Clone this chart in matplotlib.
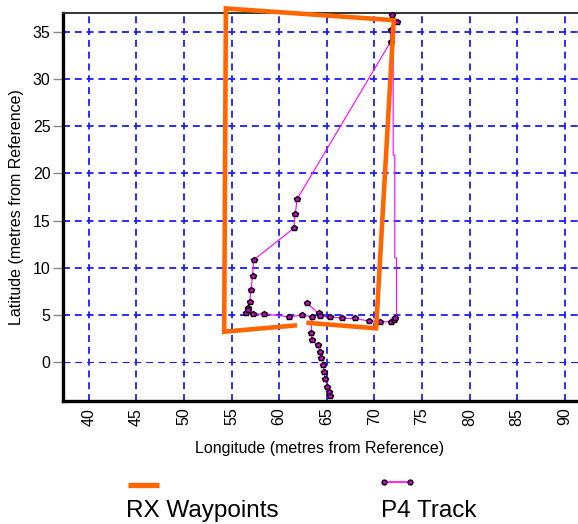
import matplotlib
matplotlib.use("Agg")
import matplotlib.pyplot as plt
from matplotlib.lines import Line2D

plt.rcParams['font.family'] = ['Liberation Sans', 'DejaVu Sans']
plt.rcParams['lines.scale_dashes'] = False

# RX waypoint route (open path, metres from reference)
rx_lon = [61.88, 54.23, 54.41, 72.04, 70.19, 62.86]
rx_lat = [3.92, 3.24, 37.48, 36.24, 3.60, 4.19]

# P4 recorded track (metres from reference)
track_lon = [62.93, 64.15, 64.26, 65.38, 66.61, 68.00, 69.41, 70.64, 71.70, 72.04,
             72.22, 72.33, 72.33, 72.15, 72.15, 71.98, 71.98, 71.87, 72.40, 71.70,
             71.70, 61.88, 61.70, 61.52, 57.32, 57.21, 57.04, 56.90, 56.68, 56.52,
             56.75, 57.25, 58.37, 61.00, 62.41, 63.46, 63.35, 63.46, 64.05, 64.26,
             64.41, 64.62, 64.68, 64.86, 65.04, 65.20, 65.38]
track_lat = [6.25, 5.19, 4.90, 4.83, 4.66, 4.64, 4.37, 4.30, 4.27, 4.48,
             4.66, 4.90, 11.04, 11.04, 21.95, 21.95, 36.45, 36.77, 36.06, 35.20,
             33.94, 17.26, 15.67, 14.19, 10.83, 9.17, 7.65, 6.35, 5.72, 5.25,
             5.55, 5.11, 5.11, 4.83, 4.98, 4.83, 3.07, 2.36, 1.83, 1.12,
             0.42, -0.29, -1.00, -1.80, -2.58, -3.11, -3.57]
# vertices that carry a fix marker (bends of the right-hand leg are not fixes)
track_fix_idx = [i for i in range(len(track_lon)) if i not in (11, 12, 13, 14, 15, 16)]

x_ticks = [40, 45, 50, 55, 60, 65, 70, 75, 80, 85, 90]
y_ticks = [0, 5, 10, 15, 20, 25, 30, 35]

W, H = 578, 524
fig = plt.figure(figsize=(W / 100, H / 100), dpi=100)
ax_w = 1 - 63 / W + 0.01
ax = fig.add_axes([63 / W, 1 - 400.7 / H, ax_w, (400.7 - 13) / H])

ax.set_xlim(37.3, 92.0)
ax.set_ylim(-4.07, 37.0)
ax.set_xticks(x_ticks)
ax.set_yticks(y_ticks)

ax.grid(True, color='#1a1aff', linestyle=(0, (5, 3.5)), linewidth=1.3)
ax.set_axisbelow(True)
# the zero-latitude line is drawn lighter
for t, gl in zip(ax.get_yticks(), ax.yaxis.get_gridlines()):
    if t == 0:
        gl.set_linewidth(0.8)

for side in ('left', 'bottom'):
    ax.spines[side].set_linewidth(2.4)
ax.spines['top'].set_linewidth(1.4)
ax.spines['top'].set_color('#333333')
ax.spines['right'].set_visible(False)

ax.tick_params(axis='y', length=7, width=1, color='#888888', pad=2, labelsize=11.5)
ax.tick_params(axis='x', length=0, pad=5, labelsize=11.5, labelrotation=90)

ax.set_xlabel('Longitude (metres from Reference)', fontsize=11.5)
ax.set_ylabel('Latitude (metres from Reference)', fontsize=11.5)
ax.xaxis.set_label_coords((320 - 63) / (W * ax_w), -(448 - 400.7) / (400.7 - 13))
ax.xaxis.label.set_va('center')
ax.yaxis.set_label_coords(-(63 - 17) / (W * ax_w), 0.5)
ax.yaxis.label.set_va('center')

ax.plot(track_lon, track_lat, color='#ff00ff', linewidth=0.8,
        marker='p', markersize=4.3, markerfacecolor='#cc00cc',
        markeredgecolor='black', markeredgewidth=1.0,
        markevery=track_fix_idx, zorder=3, clip_on=False)
ax.plot(rx_lon, rx_lat, color='#ff6600', linewidth=3.3,
        solid_capstyle='butt', solid_joinstyle='miter', zorder=4, clip_on=False)

# legend keys with their names underneath
fig.add_artist(Line2D([128 / W, 159 / W], [1 - 485 / H] * 2, color='#ff6600',
                      linewidth=3.8, solid_capstyle='butt'))
fig.text(126 / W, 1 - 517 / H, 'RX Waypoints', fontsize=17.5, ha='left', va='baseline')
fig.add_artist(Line2D([384 / W, 410 / W], [1 - 482 / H] * 2, color='#ff00ff',
                      linewidth=1.2, marker='o', markersize=3.5,
                      markerfacecolor='#cc00cc', markeredgecolor='black',
                      markeredgewidth=1.0))
fig.text(381 / W, 1 - 517 / H, 'P4 Track', fontsize=17.5, ha='left', va='baseline')

fig.savefig('out.png', dpi=100)
